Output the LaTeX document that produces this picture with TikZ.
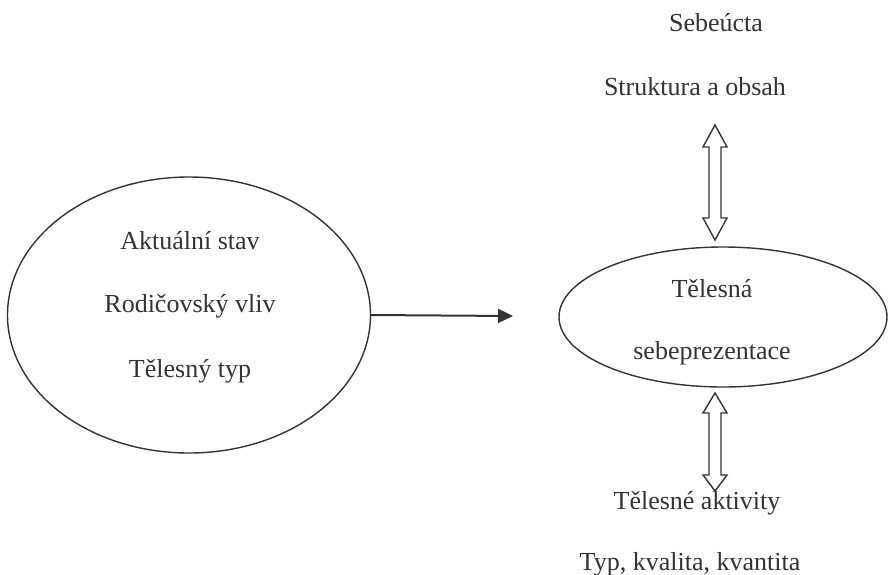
\documentclass[tikz,border=0pt]{standalone}
\usepackage{fontspec}
\setmainfont{Liberation Serif}
\usetikzlibrary{positioning,shapes.geometric,calc,arrows.meta}

\begin{document}
\begin{tikzpicture}[x=0.5pt, y=-0.5pt,
  oval/.style={ellipse, draw=black!80, line width=0.7pt, inner sep=0pt},
  txt/.style={font=\fontsize{13}{15}\selectfont, text=black!80, inner sep=0pt},
  block/.style={draw=black!80, line width=0.7pt, line join=miter},
  arrow/.style={-{Triangle[length=7.5pt,width=7pt]}, line width=1pt, draw=black!80}]

\useasboundingbox (0,0) rectangle (889,574);

%levy ovál
\node[oval, minimum width=181.5pt, minimum height=138pt] (stav) at (189,315) {};
\node[txt] (aktualni) at (190,241) {Aktuální stav};
\node[txt] (rodic) at (190,306) {Rodičovský vliv};
\node[txt] (typ) at (190,371) {Tělesný typ};

%pravý ovál
\node[oval, minimum width=164pt, minimum height=70pt] (sebe) at (723,317) {};
\node[txt] (telesna) at (712,289) {Tělesná};
\node[txt] (prezentace) at (712,353) {sebeprezentace};

%texty nahoře a dole
\node[txt] (sebeucta) at (716,23) {Sebeúcta};
\node[txt] (struktura) at (695,87) {Struktura a obsah};
\node[txt] (aktivity) at (697,503) {Tělesné aktivity};
\node[txt] (kvalita) at (690,564) {Typ, kvalita, kvantita};

%konce dvojitých šipek
\coordinate (horni1) at (715,125);
\coordinate (horni2) at (715,240);
\coordinate (dolni1) at (715,393);
\coordinate (dolni2) at (715,491);

%dvojité šipky
\foreach \a/\b/\h/\k in {horni1/horni2/22/22, dolni1/dolni2/20/16}
  \draw[block] (\a) -- ($(\a)+(12,\h)$) -- ($(\a)+(6,\h)$) -- ($(\b)+(6,-\k)$)
    -- ($(\b)+(12,-\k)$) -- (\b) -- ($(\b)+(-12,-\k)$) -- ($(\b)+(-6,-\k)$)
    -- ($(\a)+(-6,\h)$) -- ($(\a)+(-12,\h)$) -- cycle;

%šipka od levého oválu
\coordinate (cil) at (513,316);
\draw[arrow] (stav.east) -- (cil);

\end{tikzpicture}
\end{document}
